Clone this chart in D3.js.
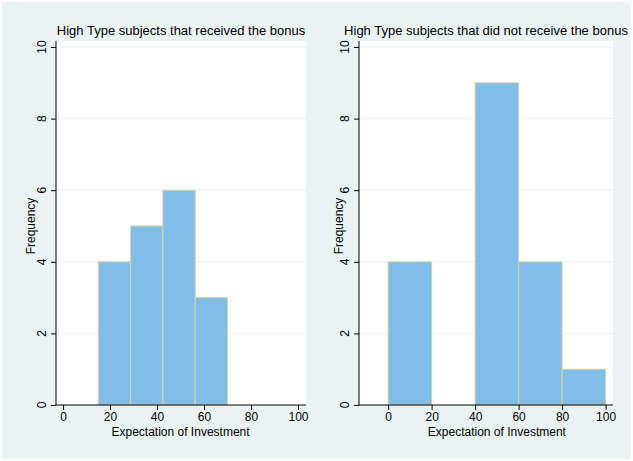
<!DOCTYPE html>
<html>
<head>
<meta charset="utf-8">
<script src="https://cdn.jsdelivr.net/npm/d3@7"></script>
<style>
  body { margin: 0; background: #fff; }
  text { font-family: "Liberation Sans", Arial, sans-serif; fill: #000; }
</style>
</head>
<body>
<div id="chart"></div>
<script>
// bins (start, end) and frequencies
let leftBinEdges = [15, 28.75, 42.5, 56.25, 70];
let leftCounts = [4, 5, 6, 3];
let rightBinEdges = [0, 20, 40, 60, 80, 100];
let rightCounts = [4, 0, 9, 4, 1];
let xTicks = [0, 20, 40, 60, 80, 100];
let yTicks = [0, 2, 4, 6, 8, 10];
let titles = ["High Type subjects that received the bonus", "High Type subjects that did not receive the bonus"];

let width = 633, height = 461;

let svg = d3.select("#chart").append("svg")
  .attr("width", width)
  .attr("height", height);

svg.append("rect")
  .attr("x", 2).attr("y", 2)
  .attr("width", width - 4).attr("height", height - 4)
  .attr("fill", "#EAF2F3");

let y = d3.scaleLinear().domain([0, 10]).range([405, 47]);

let panels = [
  { edges: leftBinEdges, counts: leftCounts, title: titles[0], x: d3.scaleLinear().domain([-3, 103.4]).range([56, 306]), yLab: 42, fLab: 31 },
  { edges: rightBinEdges, counts: rightCounts, title: titles[1], x: d3.scaleLinear().domain([-13.4, 103.4]).range([359, 613]), yLab: 345, fLab: 339 }
];

panels.forEach(function(p) {
  let x0 = p.x.range()[0], x1 = p.x.range()[1];
  let g = svg.append("g");

  // plot region
  g.append("rect")
    .attr("x", x0).attr("y", 41)
    .attr("width", x1 - x0).attr("height", 405 - 41)
    .attr("fill", "#fff");

  // grid
  g.selectAll(".grid").data(yTicks.slice(1)).enter().append("line")
    .attr("x1", x0).attr("x2", x1)
    .attr("y1", function(d) { return y(d); })
    .attr("y2", function(d) { return y(d); })
    .attr("stroke", "#EAF2F3").attr("stroke-width", 1);

  // bars
  let bins = p.counts.map(function(c, i) { return { a: p.edges[i], b: p.edges[i + 1], c: c }; })
    .filter(function(d) { return d.c > 0; });
  g.selectAll(".bar").data(bins).enter().append("rect")
    .attr("x", function(d) { return p.x(d.a); })
    .attr("width", function(d) { return p.x(d.b) - p.x(d.a); })
    .attr("y", function(d) { return y(d.c); })
    .attr("height", function(d) { return y(0) - y(d.c); })
    .attr("fill", "#80BEE8")
    .attr("stroke", "#D8D3A4")
    .attr("stroke-width", 1);

  // y axis
  let ya = g.append("g")
    .attr("transform", "translate(" + x0 + ",0)")
    .call(d3.axisLeft(y).tickValues(yTicks).tickSize(5).tickPadding(3).tickFormat(d3.format("d")));
  ya.select(".domain").attr("d", "M0,41V405");
  ya.selectAll("text").remove();
  g.selectAll(".ylab").data(yTicks).enter().append("text")
    .attr("transform", function(d) { return "translate(" + (p.yLab + 4) + "," + y(d) + ") rotate(-90)"; })
    .attr("text-anchor", "middle")
    .attr("font-size", 12)
    .text(function(d) { return d; });

  g.append("text")
    .attr("transform", "translate(" + (p.fLab + 4) + ",226) rotate(-90)")
    .attr("text-anchor", "middle")
    .attr("font-size", 12)
    .text("Frequency");

  // x axis
  let xa = g.append("g")
    .attr("transform", "translate(0,405)")
    .call(d3.axisBottom(p.x).tickValues(xTicks).tickSize(5).tickPadding(2).tickFormat(d3.format("d")));
  xa.select(".domain").attr("d", "M" + x0 + ",0H" + x1);
  xa.selectAll("text").attr("font-size", 12).style("font-family", "Liberation Sans, Arial, sans-serif");

  g.append("text")
    .attr("x", p.x(50)).attr("y", 436)
    .attr("text-anchor", "middle")
    .attr("font-size", 12)
    .text("Expectation of Investment");

  g.append("text")
    .attr("x", (x0 + x1) / 2).attr("y", 35)
    .attr("text-anchor", "middle")
    .attr("font-size", 13)
    .text(p.title);
});
</script>
</body>
</html>
